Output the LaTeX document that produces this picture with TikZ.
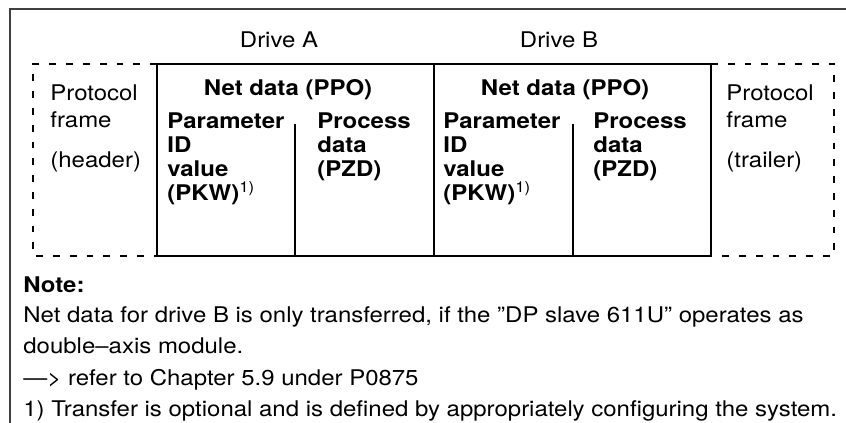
\documentclass[tikz,border=0pt]{standalone}
\usepackage{fontspec}
\setmainfont{TeX Gyre Heros}[FakeStretch=1.11]
\usetikzlibrary{positioning, calc}

\tikzset{
  txt/.style={inner sep=0pt, anchor=base west, align=left, font=\fontsize{10.8}{12}\selectfont},
  boldtxt/.style={txt, font=\fontsize{10.8}{12}\selectfont\bfseries},
  ppoline/.style={line width=1pt},
  protoline/.style={line width=1pt, dash pattern=on 3.4pt off 5pt}
}

\begin{document}
\begin{tikzpicture}[x=0.5pt, y=-0.5pt]
        \useasboundingbox (0,0) rectangle (846,423);

        % Outer frame (only top and left edge visible)
        \draw[black!75, line width=0.6pt] (846,9) -- (10,9) -- (10,423);

        % Corners of the telegram
        \coordinate (hdrNW) at (33,64);
        \coordinate (hdrSW) at (33,256);
        \coordinate (ppoNW) at (157,64);
        \coordinate (ppoSW) at (157,256);
        \coordinate (ppoNE) at (711,64);
        \coordinate (ppoSE) at (711,256);
        \coordinate (trlNE) at (834,64);
        \coordinate (trlSE) at (834,256);
        \coordinate (midN) at (434,64);
        \coordinate (midS) at (434,256);

        % Net data boxes
        \draw[ppoline] (ppoNW) rectangle (ppoSE);
        \draw[ppoline] (midN) -- (midS);
        \draw[ppoline] (295,124) -- (295,256);
        \draw[ppoline] (573,124) -- (573,256);

        % Protocol frame (dashed)
        \draw[protoline] (ppoNW) -- (hdrNW) -- (hdrSW) -- (ppoSW);
        \draw[protoline] (ppoNE) -- (trlNE) -- (trlSE) -- (ppoSE);

        % Labels (multi-line nodes sit on the baseline of their last line)
        \node (driveA) [txt, anchor=base] at (279,47) {Drive A};
        \node (driveB) [txt, anchor=base] at (559,47) {Drive B};
        \node (ppoA) [boldtxt, anchor=base] at (288,95) {Net data (PPO)};
        \node (ppoB) [boldtxt, anchor=base] at (565,95) {Net data (PPO)};
        \node (pkwA) [boldtxt] at (167,200) {Parameter\\ID\\value\\(PKW)\textsuperscript{\mdseries 1)}};
        \node (pzdA) [boldtxt] at (317,176) {Process\\data\\(PZD)};
        \node (pkwB) [boldtxt] at (443,200) {Parameter\\ID\\value\\(PKW)\textsuperscript{\mdseries 1)}};
        \node (pzdB) [boldtxt] at (593,176) {Process\\data\\(PZD)};
        \node (hdr) [txt, font=\fontsize{10.8}{13.5}\selectfont] at (50,127) {Protocol\\frame};
        \node (hdrTag) [txt] at (50,167) {(header)};
        \node (trl) [txt, font=\fontsize{10.8}{13.5}\selectfont] at (726,127) {Protocol\\frame};
        \node (trlTag) [txt] at (726,167) {(trailer)};

        % Note
        \node (note) [boldtxt] at (23,292) {Note:};
        \node (line1) [txt] at (23,322) {Net data for drive B is only transferred, if the ”DP slave 611U” operates as};
        \node (line2) [txt] at (23,353) {double–axis module.};
        \node (line3) [txt] at (23,385) {—> refer to Chapter 5.9 under P0875};
        \node (line4) [txt] at (23,416) {1) Transfer is optional and is defined by appropriately configuring the system.};
    \end{tikzpicture}
\end{document}
